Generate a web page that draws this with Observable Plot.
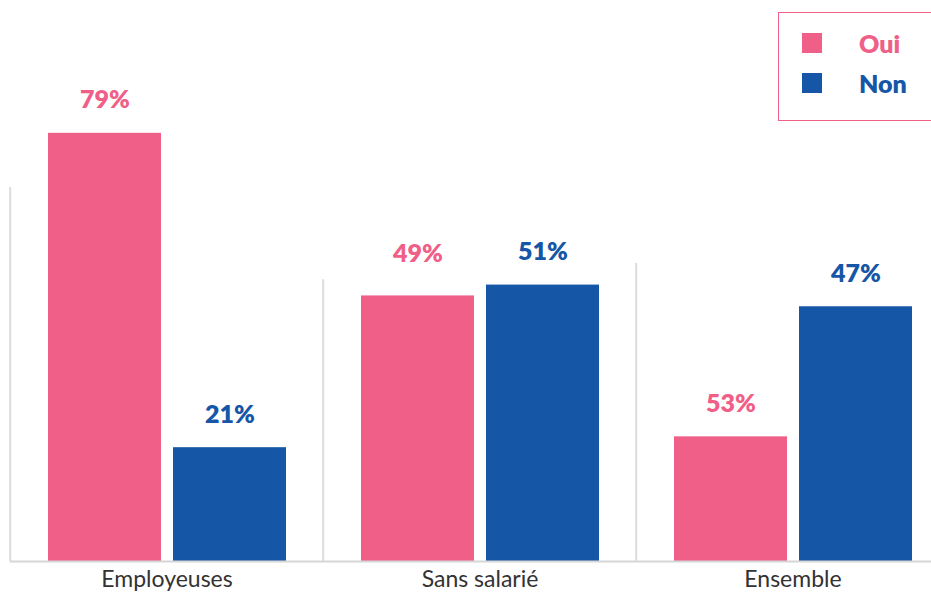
<!DOCTYPE html>
<html>
<head>
<meta charset="utf-8">
<script src="https://cdn.jsdelivr.net/npm/d3@7"></script>
<script src="https://cdn.jsdelivr.net/npm/@observablehq/plot@0.6"></script>
<style>
  html, body { margin: 0; padding: 0; background: #fff; }
  #wrap { position: relative; width: 931px; height: 593px; overflow: hidden; font-family: Lato, "Noto Sans", sans-serif; }
  #legend { position: absolute; left: 778px; top: 12px; width: 170px; height: 109px; border: 1.5px solid #f05f88; box-sizing: border-box; background: #fff; }
  .item { position: absolute; left: 23px; display: flex; align-items: center; font-weight: 800; font-size: 25px; }
  .sw { width: 20px; height: 20px; margin-right: 37px; }
</style>
</head>
<body>
<div id="wrap">
  <div id="chart"></div>
  <div id="legend"></div>
</div>
<script>
const groups = ["Employeuses", "Sans salarié", "Ensemble"];
const series = ["Oui", "Non"];
const colors = ["#f05f88", "#1656a6"];
// bar heights as drawn (%)
const oui = [79, 49, 23];
const non = [21, 51, 47];
// value labels as printed
const ouiLabels = ["79%", "49%", "53%"];
const nonLabels = ["21%", "51%", "47%"];
// height of the light separator lines at the left of each group (%)
const sepHeights = [69, 52, 55];

const rows = [];
groups.forEach((g, i) => {
  rows.push({group: g, serie: "Oui", value: oui[i], label: ouiLabels[i]});
  rows.push({group: g, serie: "Non", value: non[i], label: nonLabels[i]});
});
const seps = groups.map((g, i) => ({group: g, h: sepHeights[i]}));

const step = 125, padIn = 12 / 125, padOut = 0.2986;
const sepDx = -(padOut * step + step * (1 - padIn) / 2) - 1;

const plot = Plot.plot({
  width: 931,
  height: 593,
  marginTop: 19,
  marginBottom: 32,
  marginLeft: 10,
  marginRight: -18,
  style: {fontFamily: "Lato, 'Noto Sans', sans-serif", fontSize: "23px", color: "#333", overflow: "visible"},
  fx: {domain: groups, padding: 0, label: null, axis: "bottom", tickSize: 0, tickPadding: 9},
  x: {domain: series, paddingInner: padIn, paddingOuter: padOut, axis: null},
  y: {domain: [0, 100], axis: null},
  color: {domain: series, range: colors},
  marks: [
    Plot.ruleX(seps, {fx: "group", x: () => "Oui", dx: sepDx, y1: 0, y2: "h", stroke: "#dcdcdc", strokeWidth: 2}),
    Plot.barY(rows, {fx: "group", x: "serie", y: "value", fill: "serie"}),
    Plot.text(rows.filter(d => !(d.group === "Sans salarié" && d.serie === "Oui")), {fx: "group", x: "serie", y: "value", text: "label", fill: "serie", dy: -33, fontSize: 25, fontWeight: 800}),
    Plot.text(rows.filter(d => d.group === "Sans salarié" && d.serie === "Oui"), {fx: "group", x: "serie", y: "value", text: "label", fill: "serie", dy: -42, fontSize: 25, fontWeight: 800}),
    Plot.ruleY([0], {stroke: "#d6d6d6", strokeWidth: 2})
  ]
});
document.getElementById("chart").appendChild(plot);

const legend = document.getElementById("legend");
series.forEach((s, i) => {
  const it = document.createElement("div");
  it.className = "item";
  it.style.top = (i === 0 ? 15 : 55) + "px";
  it.style.color = colors[i];
  it.innerHTML = `<div class="sw" style="background:${colors[i]}"></div><span>${s}</span>`;
  legend.appendChild(it);
});
</script>
</body>
</html>
